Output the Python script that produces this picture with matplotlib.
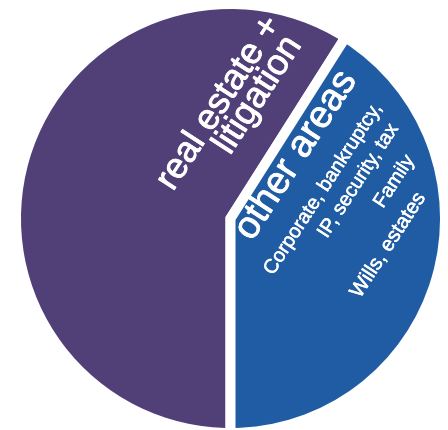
import matplotlib
matplotlib.use("Agg")
import matplotlib.pyplot as plt
import matplotlib.patheffects as pe

# Share of practice by area
categories = ["real estate + litigation", "other areas"]
shares = [59, 41]
colors = ["#513F78", "#1F5CA3"]

big_lines = ["real estate +", "litigation"]
other_title = "other areas"
other_lines = ["Corporate, bankruptcy,", "IP, security, tax", "Family", "Wills, estates"]

W, H = 448, 431
fig = plt.figure(figsize=(W / 100, H / 100), dpi=100)
ax = fig.add_axes([0, 0, 1, 1])

gap_px = 10
lw_pt = gap_px * 72 / 100
cx, cy, r = 230.5, H - 219.5, 209.5 + gap_px / 2

# purple slice ends at the bottom of the circle, blue fills the rest
start = 270 - 360 * shares[0] / sum(shares)
ax.pie(shares, colors=colors, startangle=start, counterclock=True,
       center=(cx, cy), radius=r, frame=True,
       wedgeprops=dict(edgecolor="white", linewidth=lw_pt, joinstyle="miter"))
ax.set_xlim(0, W)
ax.set_ylim(0, H)
ax.set_aspect("equal")
ax.axis("off")

rot = 57
font = "Liberation Sans"


def put(text, x, y, size, thick):
    ax.text(x, H - y, text, rotation=rot, rotation_mode="anchor",
            ha="left", va="baseline", color="white", fontsize=size,
            family=font,
            path_effects=[pe.withStroke(linewidth=thick, foreground="white")])


put(big_lines[0], 173, 193, 26, 0.6)
put(big_lines[1], 230, 157, 26, 0.6)
put(other_title, 252, 243, 27.5, 0.6)
put(other_lines[0], 273, 277, 14.3, 0.35)
put(other_lines[1], 327, 240, 14.3, 0.35)
put(other_lines[2], 383, 210, 14.3, 0.35)
put(other_lines[3], 360, 300, 14.8, 0.35)

fig.savefig("out.png", dpi=100, facecolor="white")
